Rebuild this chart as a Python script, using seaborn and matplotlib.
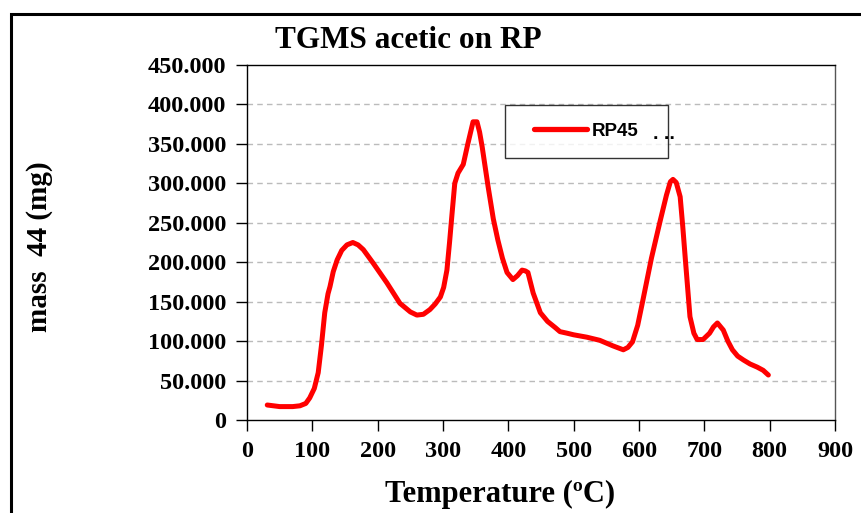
import matplotlib
matplotlib.use("Agg")
import matplotlib.pyplot as plt
import seaborn as sns
import pandas as pd
from matplotlib.patches import Rectangle
from matplotlib.lines import Line2D
from matplotlib.legend_handler import HandlerLine2D

# ---- data ----
temperature = [31, 50, 70, 81, 90, 96, 103, 109, 114, 119, 124, 127, 132, 138, 145,
               153, 162, 170, 178, 193, 214, 234, 250, 260, 270, 280, 288, 296, 301,
               306, 310, 314, 318, 323, 331, 338, 346, 352, 356, 360, 369, 377, 384,
               391, 398, 407, 414, 421, 426, 430, 438, 449, 460, 472, 479, 490, 500,
               520, 540, 560, 576, 583, 590, 598, 606, 619, 632, 642, 648, 652, 657,
               663, 667, 671, 678, 684, 689, 698, 708, 714, 720, 729, 736, 743, 751,
               760, 770, 781, 790, 798]
mass44 = [19, 17, 17, 18, 21, 28, 40, 60, 95, 136, 160, 169, 188, 203, 215,
          222, 225, 222, 216, 199, 174, 148, 137, 133, 134, 140, 147, 156, 168,
          190, 225, 263, 300, 313, 324, 350, 378, 378, 365, 346, 296, 255, 228,
          205, 187, 178, 183, 190, 189, 187, 161, 136, 125, 117, 112, 110, 108,
          105, 101, 94, 89, 92, 99, 120, 152, 205, 251, 285, 302, 305, 301,
          283, 245, 203, 131, 110, 102, 102, 110, 118, 123, 114, 100, 89, 81,
          76, 71, 67, 63, 57]
series_name = "RP45"
y_ticks = [0, 50, 100, 150, 200, 250, 300, 350, 400, 450]
x_ticks = [0, 100, 200, 300, 400, 500, 600, 700, 800, 900]

df = pd.DataFrame({"Temperature": temperature, "mass44": mass44, "series": series_name})

sns.set_theme(style="white")
plt.rcParams["font.family"] = ["Liberation Serif", "DejaVu Serif"]
plt.rcParams["text.color"] = "black"
plt.rcParams["xtick.color"] = "black"
plt.rcParams["ytick.color"] = "black"

fig = plt.figure(figsize=(8.62, 5.13), dpi=100)
ax = fig.add_axes([247 / 862, 1 - 420 / 513, (835 - 247) / 862, (420 - 65) / 513])

sns.lineplot(data=df, x="Temperature", y="mass44", hue="series",
             palette=["#FF0000"], linewidth=3.6, ax=ax, legend=True)

ax.set_xlim(0, 900)
ax.set_ylim(0, 450)
ax.set_xticks(x_ticks)
ax.set_yticks(y_ticks)
ax.set_xticklabels([str(v) for v in x_ticks], fontsize=17.5, fontweight="bold")
ax.set_yticklabels(["%d" % v if v == 0 else "%.3f" % v for v in y_ticks],
                   fontsize=17.5, fontweight="bold")
ax.tick_params(axis="both", direction="out", length=8, width=1, color="black",
               bottom=True, left=True, pad=7, labelcolor="black")
ax.set_xlabel("")
ax.set_ylabel("")

for yv in y_ticks[1:-1]:
    ax.axhline(yv, color="#bbbbbb", linestyle=(0, (4, 3)), linewidth=1, zorder=0)

for side in ["left", "bottom", "top"]:
    ax.spines[side].set_color("black")
    ax.spines[side].set_linewidth(1.0)
ax.spines["right"].set_color("#555555")
ax.spines["right"].set_linewidth(1.0)

# legend box: x 505..668, y 105..157 in reference pixels
lx0 = (505 - 247) / 588
lw = (668 - 505) / 588
ly1 = (420 - 105) / 355
lh = (157 - 105) / 355
handles, labels = ax.get_legend_handles_labels()
leg = ax.legend(handles, labels, loc="upper left",
                bbox_to_anchor=(lx0, ly1 - lh, lw, lh), mode="expand",
                frameon=True, fancybox=False, edgecolor="black", handlelength=3.4,
                borderpad=0.95, handletextpad=0.3, borderaxespad=0,
                handler_map={Line2D: HandlerLine2D(xpad=0.6)},
                prop={"family": "Liberation Sans", "weight": "bold", "size": 13.5})
leg.get_frame().set_linewidth(1.0)
for h in leg.get_lines():
    h.set_linewidth(3.8)
for t in leg.get_texts():
    t.set_color("black")

fig.text(664 / 862, 1 - 135 / 513, ". ..", fontsize=14, fontweight="bold",
         family="Liberation Sans", ha="center", va="center", color="black")

fig.text(408 / 862, 1 - 40 / 513, "TGMS acetic on RP", fontsize=22.5, fontweight="bold",
         ha="center", va="center", color="black")
fig.text(500 / 862, 1 - 494 / 513, "Temperature (ºC)", fontsize=22, fontweight="bold",
         ha="center", va="center", color="black")
fig.text(40 / 862, 1 - 247 / 513, "mass  44 (mg)", fontsize=21, fontweight="bold",
         ha="center", va="center", rotation=90, color="black")

fig.patches.append(Rectangle((11 / 862, -0.1), 1.0, 1 - 14 / 513 + 0.1,
                             transform=fig.transFigure, fill=False,
                             edgecolor="black", linewidth=2.2, zorder=10))

fig.savefig("out.png", dpi=100)
